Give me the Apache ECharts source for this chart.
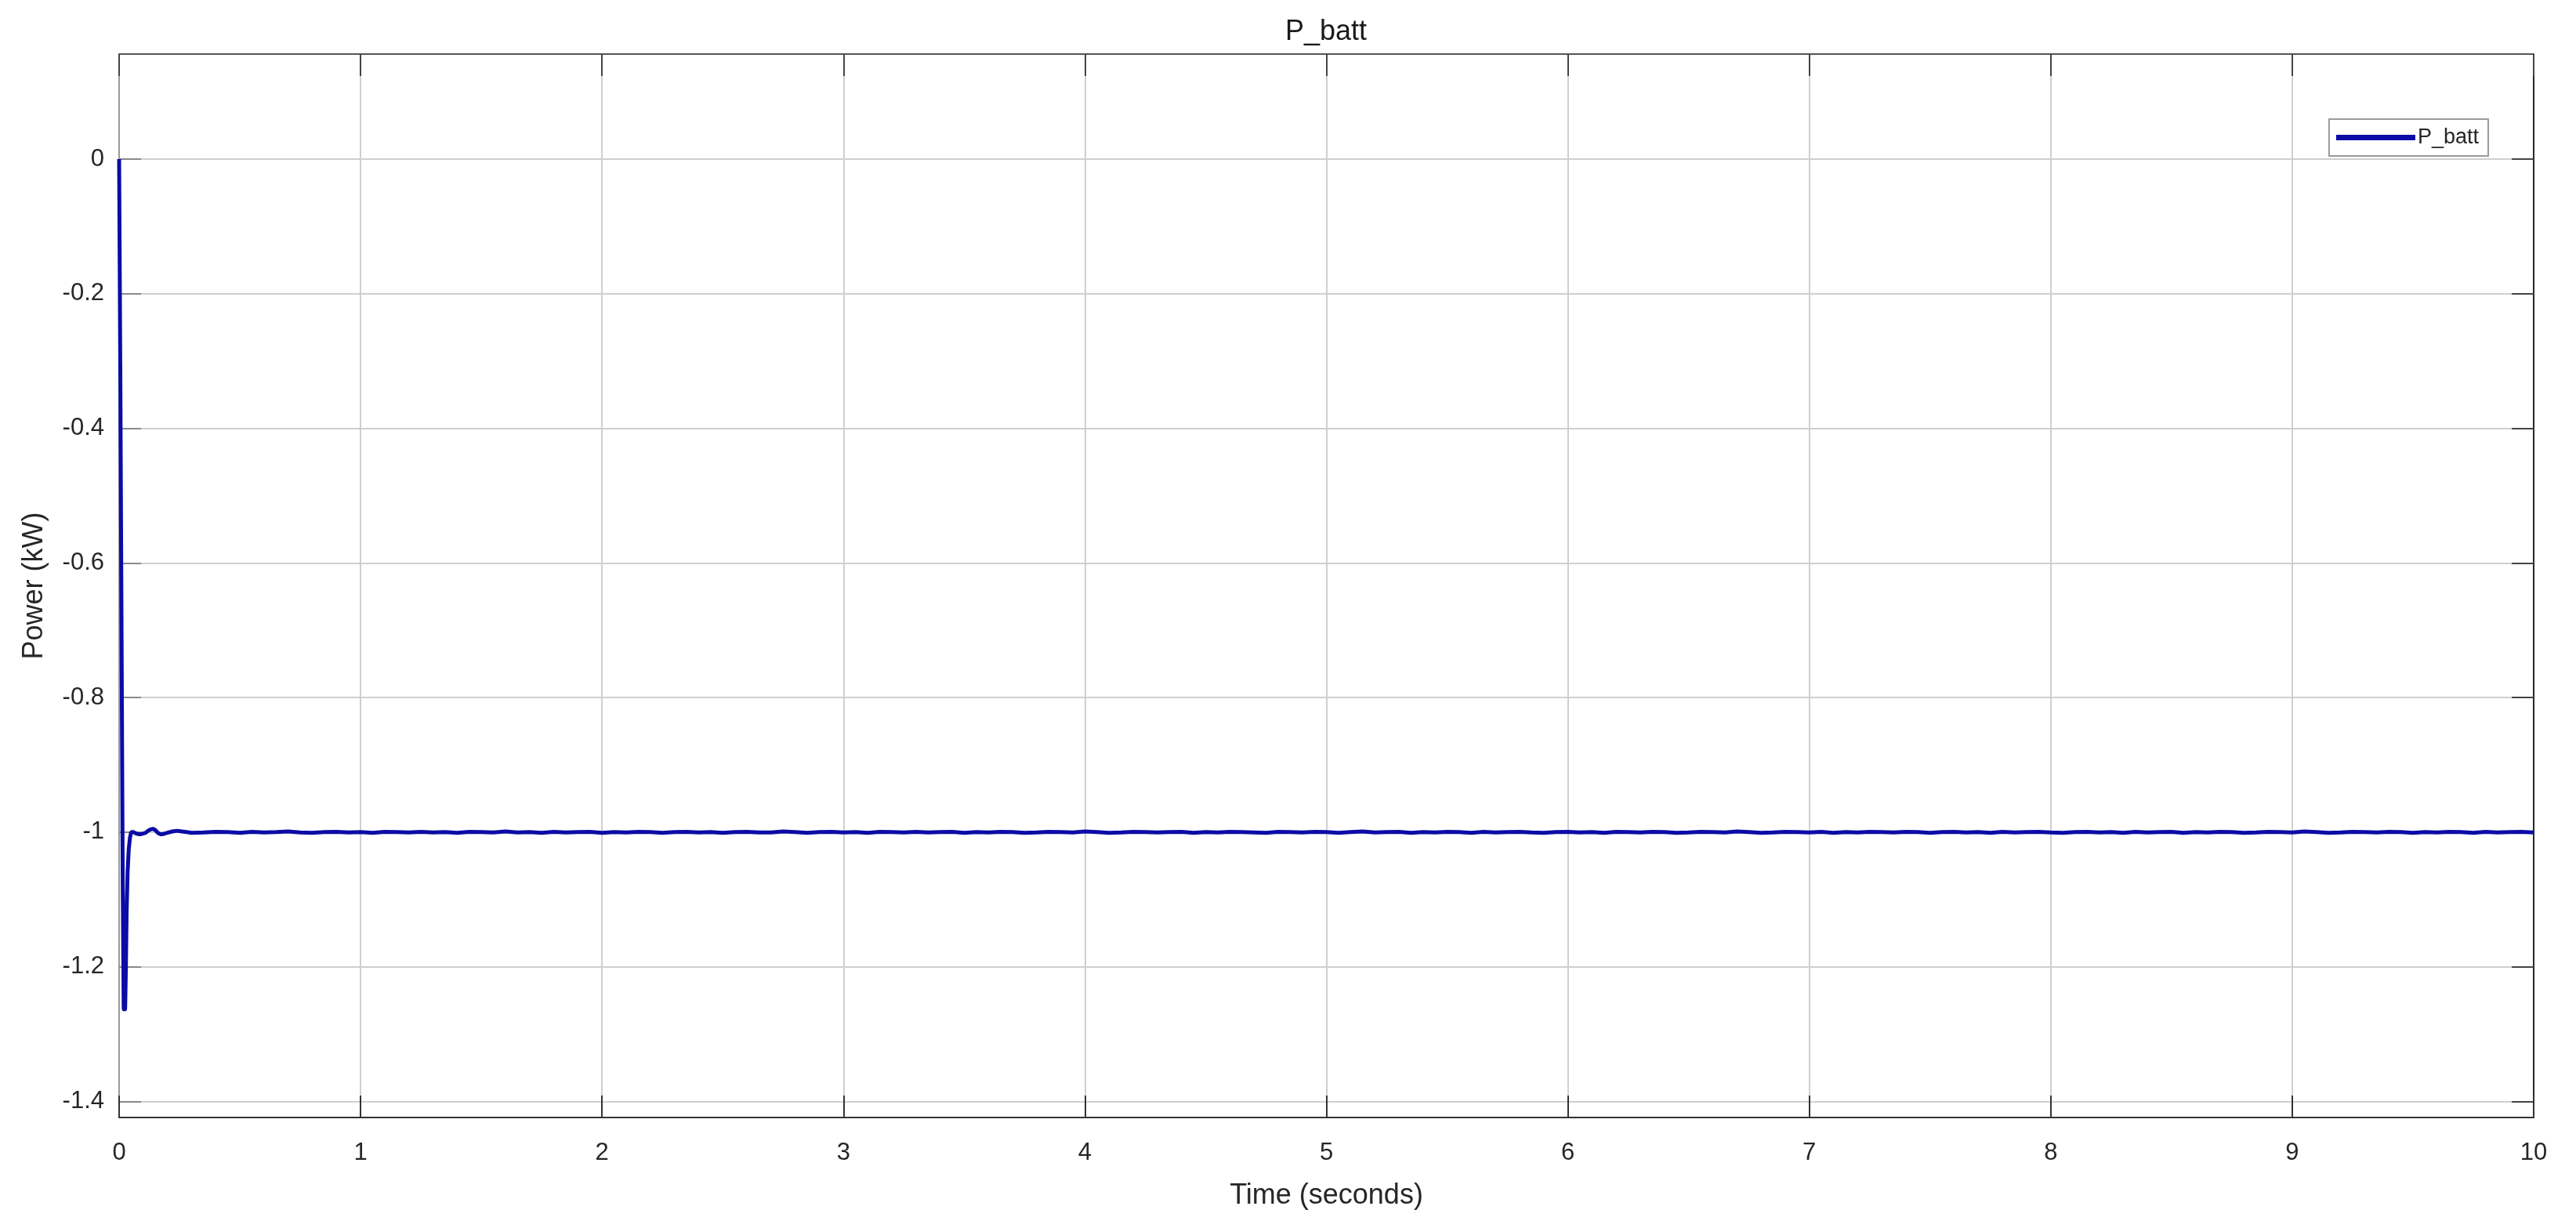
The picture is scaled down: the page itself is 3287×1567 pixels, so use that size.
<!DOCTYPE html>
<html>
<head>
<meta charset="utf-8">
<title>P_batt</title>
<script src="https://cdn.jsdelivr.net/npm/echarts@6/dist/echarts.min.js"></script>
<style>
html, body { margin: 0; padding: 0; background: #fff; }
#main { width: 3287px; height: 1567px; }
</style>
</head>
<body>
<div id="main"></div>
<script>
// start-up transient (time in s, power in kW)
var transientTime = [0, 0.005, 0.01, 0.015, 0.019, 0.022, 0.025, 0.028, 0.031, 0.035, 0.04, 0.045, 0.05,
	0.06, 0.07, 0.08, 0.09, 0.10, 0.11, 0.12, 0.13, 0.14, 0.15, 0.16, 0.17, 0.18, 0.19, 0.20, 0.22, 0.24, 0.26, 0.28, 0.30];
var transientPower = [0, -0.32, -0.7, -1.08, -1.262, -1.265, -1.262, -1.2, -1.12, -1.06, -1.025, -1.008, -1.0,
	-1.0, -1.002, -1.003, -1.003, -1.002, -1.001, -0.998, -0.996, -0.995, -0.997, -1.001, -1.003, -1.003, -1.002, -1.001, -0.999, -0.998, -0.999, -1.0, -1.001];

// steady part, sampled every 0.05 s from 0.35 s
var steadyStart = 0.35;
var steadyStep = 0.05;
var steadyPower = [
	-1.0005,-0.9995,-1.000,-1.001,-0.9995,-1.0005,-1.000,-0.999,-1.0005,-1.001,-1.000,-0.9995,-1.0005,-1.000,-1.001,-0.9995,-1.000,-1.0005,-0.9995,-1.0005,
	-1.000,-1.001,-0.9995,-1.000,-1.0005,-0.999,-1.0005,-1.000,-1.001,-0.9995,-1.0005,-1.000,-0.9995,-1.001,-1.000,-1.0005,-0.9995,-1.000,-1.001,-1.000,
	-0.9995,-1.0005,-1.000,-1.001,-1.000,-0.9995,-1.0005,-1.0005,-0.999,-1.000,-1.001,-1.000,-0.9995,-1.0005,-1.000,-1.001,-0.9995,-1.000,-1.0005,-0.9995,
	-1.0005,-1.000,-0.9995,-1.001,-1.000,-1.0005,-0.9995,-1.000,-1.001,-1.0005,-0.9995,-1.000,-1.0005,-0.999,-1.000,-1.001,-1.0005,-0.9995,-1.000,-1.0005,
	-1.000,-0.9995,-1.001,-1.000,-1.0005,-0.9995,-1.000,-1.0005,-1.001,-0.9995,-1.000,-1.0005,-0.9995,-1.000,-1.001,-1.000,-0.999,-1.0005,-1.000,-0.9995,
	-1.001,-1.000,-1.0005,-0.9995,-1.000,-1.001,-0.9995,-1.0005,-1.000,-0.9995,-1.0005,-1.001,-1.000,-0.9995,-1.0005,-1.000,-1.001,-0.9995,-1.000,-1.0005,
	-0.9995,-1.000,-1.001,-1.0005,-0.9995,-1.000,-1.0005,-0.999,-1.000,-1.001,-1.0005,-0.9995,-1.000,-1.0005,-0.9995,-1.001,-1.000,-1.0005,-0.9995,-1.000,
	-1.0005,-0.9995,-1.000,-1.001,-1.000,-0.9995,-1.0005,-1.000,-1.001,-0.9995,-1.0005,-1.000,-0.9995,-1.0005,-1.001,-1.000,-0.9995,-1.0005,-1.000,-1.001,
	-0.9995,-1.0005,-1.000,-0.9995,-1.001,-1.000,-1.0005,-0.9995,-1.000,-1.001,-1.0005,-0.9995,-1.000,-1.0005,-0.999,-1.000,-1.001,-1.0005,-0.9995,-1.000,
	-1.0005,-0.9995,-1.000,-1.001,-1.000,-1.0005,-0.9995,-1.000,-1.001,-0.9995,-1.0005,-1.000,-0.9995,-1.0005
];

// axis ticks
var xTicks = [0, 1, 2, 3, 4, 5, 6, 7, 8, 9, 10];
var yTicks = [0, -0.2, -0.4, -0.6, -0.8, -1, -1.2, -1.4];
var yMin = -1.424;
var yMax = 0.156;

var seriesData = [];
for (var i = 0; i < transientTime.length; i++) {
	seriesData.push([transientTime[i], transientPower[i]]);
}
for (var j = 0; j < steadyPower.length; j++) {
	var t = Math.round((steadyStart + j * steadyStep) * 1000) / 1000;
	if (t > 10) break;
	seriesData.push([t, steadyPower[j]]);
}

var FONT = 'Liberation Sans, Arial, sans-serif';
var myChart = echarts.init(document.getElementById('main'), null, {renderer: 'canvas'});

var option = {
	animation: false,
	backgroundColor: '#ffffff',
	title: {
		text: 'P_batt',
		left: 1692,
		top: 23,
		textAlign: 'center',
		padding: 0,
		textStyle: {fontFamily: FONT, fontSize: 36, fontWeight: 'normal', color: '#1a1a1a'}
	},
	legend: {
		data: [{name: 'P_batt', icon: 'rect'}],
		right: 112,
		top: 152,
		orient: 'vertical',
		padding: [9, 12, 9, 9],
		itemWidth: 101,
		itemHeight: 7,
		itemGap: 0,
		backgroundColor: '#ffffff',
		borderColor: '#9a9a9a',
		borderWidth: 2,
		textStyle: {fontFamily: FONT, fontSize: 27, color: '#262626', lineHeight: 29, padding: [0, 0, 0, -2]}
	},
	grid: {
		left: 152,
		right: 54,
		top: 69,
		bottom: 141,
		containLabel: false
	},
	xAxis: [
		{
			type: 'value',
			min: xTicks[0],
			max: xTicks[xTicks.length - 1],
			interval: 1,
			name: 'Time (seconds)',
			nameLocation: 'middle',
			nameGap: 82,
			nameTextStyle: {fontFamily: FONT, fontSize: 36, color: '#262626'},
			axisLine: {show: true, onZero: false, lineStyle: {color: '#333333', width: 2}},
			axisTick: {show: true, inside: true, length: 28, lineStyle: {color: '#333333', width: 2}},
			axisLabel: {margin: 30, fontFamily: FONT, fontSize: 31, color: '#262626'},
			splitLine: {show: true, lineStyle: {color: '#cfcfcf', width: 2}}
		},
		{
			type: 'value',
			position: 'top',
			min: xTicks[0],
			max: xTicks[xTicks.length - 1],
			interval: 1,
			axisLine: {show: true, onZero: false, lineStyle: {color: '#555555', width: 2}},
			axisTick: {show: true, inside: true, length: 28, lineStyle: {color: '#444444', width: 2}},
			axisLabel: {show: false},
			splitLine: {show: false}
		}
	],
	yAxis: [
		{
			type: 'value',
			min: yMin,
			max: yMax,
			name: 'Power (kW)',
			nameLocation: 'middle',
			nameGap: 90,
			nameTextStyle: {fontFamily: FONT, fontSize: 36, color: '#262626'},
			axisLine: {show: true, onZero: false, lineStyle: {color: '#9a9a9a', width: 2}},
			axisTick: {show: true, inside: true, length: 28, customValues: yTicks, lineStyle: {color: '#8a8a8a', width: 2}},
			axisLabel: {margin: 19, customValues: yTicks, fontFamily: FONT, fontSize: 31, color: '#262626'},
			splitLine: {show: true, lineStyle: {color: '#cfcfcf', width: 2}}
		},
		{
			type: 'value',
			position: 'right',
			min: yMin,
			max: yMax,
			axisLine: {show: true, onZero: false, lineStyle: {color: '#262626', width: 2}},
			axisTick: {show: true, inside: true, length: 28, customValues: yTicks, lineStyle: {color: '#444444', width: 2}},
			axisLabel: {show: false},
			splitLine: {show: false}
		}
	],
	series: [
		{
			name: 'P_batt',
			type: 'line',
			xAxisIndex: 0,
			yAxisIndex: 0,
			data: seriesData,
			showSymbol: false,
			symbol: 'none',
			clip: true,
			lineStyle: {color: '#0b0ba6', width: 5},
			itemStyle: {color: '#0b0ba6'}
		}
	]
};

myChart.setOption(option);
</script>
</body>
</html>
